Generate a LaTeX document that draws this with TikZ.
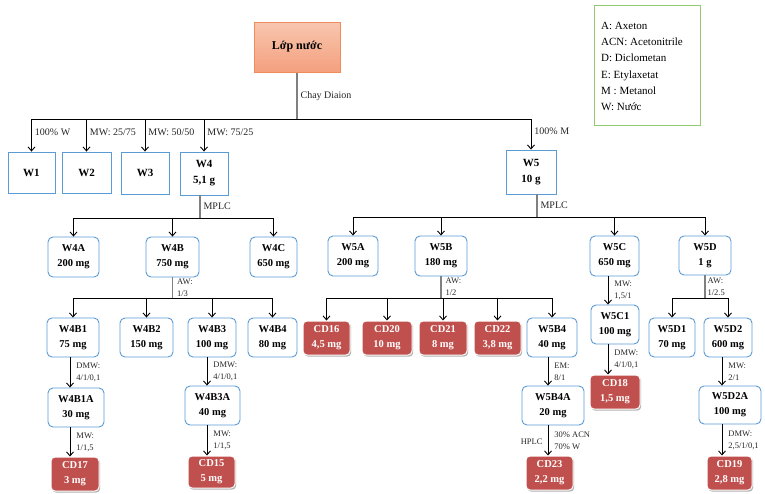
\documentclass[tikz,border=0pt]{standalone}
\usepackage{fontspec}
\setmainfont{Liberation Serif}
\usetikzlibrary{arrows.meta,shadows}

\definecolor{boxblue}{RGB}{91,155,213}
\definecolor{cdred}{RGB}{192,80,77}
\definecolor{stemgray}{RGB}{128,128,128}
\definecolor{legendgreen}{RGB}{146,200,110}
\definecolor{orangeedge}{RGB}{240,140,90}
\definecolor{orangetop}{RGB}{248,198,175}
\definecolor{orangebot}{RGB}{244,160,126}

\tikzset{
  wh/.style 2 args={minimum width=#1pt, minimum height=#2pt},
  base/.style={inner sep=0pt, align=center, font=\fontsize{10.5}{15}\selectfont\bfseries},
  fracbox/.style={base, draw=boxblue, line width=0.9pt, fill=white},
  topbox/.style={fracbox, font=\fontsize{11}{16}\selectfont\bfseries},
  subbox/.style={fracbox, rounded corners=5pt},
  cdbox/.style={base, fill=cdred, text=white, draw=white, line width=1pt,
    rounded corners=4pt,
    drop shadow={shadow xshift=1.2pt, shadow yshift=-1.6pt, fill=black, opacity=0.3}},
  stem/.style={draw=stemgray, line width=1.2pt},
  bus/.style={draw=black, line width=0.9pt},
  arr/.style={draw=black, line width=0.9pt, -{Straight Barb[length=4pt,width=7pt]}},
  lbl/.style={font=\fontsize{8.5}{12}\selectfont, align=left, inner sep=1pt, text=black!85},
  biglbl/.style={font=\fontsize{10}{12}\selectfont, inner sep=1pt, text=black!85},
}

\begin{document}
\begin{tikzpicture}[x=1pt, y=-1pt]
\path[use as bounding box] (0,0) rectangle (765,493);

% ---------- source layer and legend ----------
\node[base, draw=orangeedge, line width=1pt, top color=orangetop, bottom color=orangebot,
      wh={86}{50}, font=\fontsize{12}{14}\selectfont\bfseries] (lop) at (297,47) {Lớp nước};

\node[draw=legendgreen, line width=1pt, wh={106}{120}] (legend) at (647,65) {};
\node[anchor=west, align=left, inner sep=0pt, font=\fontsize{11}{16.2}\selectfont] (legtext) at (601,66.5)
  {A: Axeton\\ACN: Acetonitrile\\D: Diclometan\\E: Etylaxetat\\M : Metanol\\W: Nước};

% ---------- Diaion fractions ----------
\node[topbox, wh={47}{41}] (W1) at (31.5,172.5) {W1};
\node[topbox, wh={49}{41}] (W2) at (86.5,172.5) {W2};
\node[topbox, wh={48}{42}] (W3) at (145,173) {W3};
\node[topbox, wh={48}{43}] (W4) at (204,173.5) {W4\\5,1 g};
\node[topbox, wh={50}{44}] (W5) at (531,172) {W5\\10 g};

% ---------- MPLC fractions of W4 ----------
\node[subbox, wh={51}{40}] (W4A) at (73.5,257) {W4A\\200 mg};
\node[subbox, wh={53}{40}] (W4B) at (172.5,257) {W4B\\750 mg};
\node[subbox, wh={47}{40}] (W4C) at (273.5,257) {W4C\\650 mg};

\node[subbox, wh={52}{39}] (W4B1) at (73,337.5) {W4B1\\75 mg};
\node[subbox, wh={53}{39}] (W4B2) at (146.5,337.5) {W4B2\\150 mg};
\node[subbox, wh={48}{39}] (W4B3) at (212,337.5) {W4B3\\100 mg};
\node[subbox, wh={49}{39}] (W4B4) at (272.5,337.5) {W4B4\\80 mg};

\node[subbox, wh={56}{39}] (W4B1A) at (76,407.5) {W4B1A\\30 mg};
\node[cdbox, wh={48}{34}] (CD17) at (75,474) {CD17\\3 mg};
\node[subbox, wh={55}{39}] (W4B3A) at (212.5,405.5) {W4B3A\\40 mg};
\node[cdbox, wh={47}{32}] (CD15) at (211.5,472) {CD15\\5 mg};

% ---------- MPLC fractions of W5 ----------
\node[subbox, wh={50}{40}] (W5A) at (353,256) {W5A\\200 mg};
\node[subbox, wh={52}{40}] (W5B) at (441,256) {W5B\\180 mg};
\node[subbox, wh={49}{40}] (W5C) at (614.5,256) {W5C\\650 mg};
\node[subbox, wh={52}{39}] (W5D) at (705,255.5) {W5D\\1 g};

\node[cdbox, wh={47}{34}] (CD16) at (326.5,338) {CD16\\4,5 mg};
\node[cdbox, wh={50}{34}] (CD20) at (387,338) {CD20\\10 mg};
\node[cdbox, wh={48}{34}] (CD21) at (443,338) {CD21\\8 mg};
\node[cdbox, wh={47}{34}] (CD22) at (497.5,338) {CD22\\3,8 mg};
\node[subbox, wh={50}{39}] (W5B4) at (552,337.5) {W5B4\\40 mg};
\node[subbox, wh={62}{39}] (W5B4A) at (553,405.5) {W5B4A\\20 mg};
\node[cdbox, wh={47}{34}] (CD23) at (549.5,473) {CD23\\2,2 mg};

\node[subbox, wh={48}{39}] (W5C1) at (615,324.5) {W5C1\\100 mg};
\node[cdbox, wh={50}{34}] (CD18) at (615,392) {CD18\\1,5 mg};

\node[subbox, wh={46}{39}] (W5D1) at (672,337.5) {W5D1\\70 mg};
\node[subbox, wh={48}{39}] (W5D2) at (728,337.5) {W5D2\\600 mg};
\node[subbox, wh={62}{38}] (W5D2A) at (730,405) {W5D2A\\100 mg};
\node[cdbox, wh={45}{34}] (CD19) at (729.5,473) {CD19\\2,8 mg};

% ---------- bus lines and columns ----------
\coordinate (busA) at (297,119);
\coordinate (busW4) at (0,218);
\coordinate (busW5) at (0,217);
\coordinate (busW4B) at (0,298);
\coordinate (busW5B) at (0,298);
\coordinate (busW5D) at (0,298);
\coordinate (c200) at (200,0);
\coordinate (c537) at (537,0);
\coordinate (c70) at (70,0);
\coordinate (c207) at (207,0);
\coordinate (c548) at (548,0);
\coordinate (c608) at (608,0);
\coordinate (c722) at (722,0);

% Diaion column
\draw[stem] (lop.south) -- node[biglbl, right=2pt] {Chay Diaion} (busA);
\draw[bus] (W1.north |- busA) -- (W5.north |- busA);
\draw[arr] (W1.north |- busA) -- node[biglbl, right=2pt, pos=0.4] {100\% W} (W1.north);
\draw[arr] (W2.north |- busA) -- node[biglbl, right=2pt, pos=0.4] {MW: 25/75} (W2.north);
\draw[arr] (W3.north |- busA) -- node[biglbl, right=2pt, pos=0.4] {MW: 50/50} (W3.north);
\draw[arr] (W4.north |- busA) -- node[biglbl, right=2pt, pos=0.4] {MW: 75/25} (W4.north);
\draw[arr] (W5.north |- busA) -- node[biglbl, right=2pt, pos=0.4] {100\% M} (W5.north);

% W4 by MPLC
\draw[stem] (W4.south -| c200) -- node[biglbl, right=2pt] {MPLC} (busW4 -| c200);
\draw[bus] (busW4 -| W4A.north) -- (busW4 -| W4C.north);
\foreach \n in {W4A,W4B,W4C}
  \draw[arr] (busW4 -| \n.north) -- (\n.north);

% W4B
\draw[stem] (W4B.south) -- node[lbl, right=3pt] {AW:\\1/3} (busW4B -| W4B.south);
\draw[bus] (busW4B -| W4B1.north) -- (busW4B -| W4B4.north);
\foreach \n in {W4B1,W4B2,W4B3,W4B4}
  \draw[arr] (busW4B -| \n.north) -- (\n.north);

\draw[arr] (W4B1.south -| c70) -- node[lbl, right=5pt] {DMW:\\4/1/0,1} (W4B1A.north -| c70);
\draw[arr] (W4B1A.south -| c70) -- node[lbl, right=5pt] {MW:\\1/1,5} (CD17.north -| c70);
\draw[arr] (W4B3.south -| c207) -- node[lbl, right=5pt] {DMW:\\4/1/0,1} (W4B3A.north -| c207);
\draw[arr] (W4B3A.south -| c207) -- node[lbl, right=5pt] {MW:\\1/1,5} (CD15.north -| c207);

% W5 by MPLC
\draw[stem] (W5.south -| c537) -- node[biglbl, right=2pt] {MPLC} (busW5 -| c537);
\draw[bus] (busW5 -| W5A.north) -- (busW5 -| W5D.north);
\foreach \n in {W5A,W5B,W5C,W5D}
  \draw[arr] (busW5 -| \n.north) -- (\n.north);

% W5B
\draw[stem] (W5B.south) -- node[lbl, right=3pt] {AW:\\1/2} (busW5B -| W5B.south);
\draw[bus] (busW5B -| CD16.north) -- (busW5B -| W5B4.north);
\foreach \n in {CD16,CD20,CD21,CD22,W5B4}
  \draw[arr] (busW5B -| \n.north) -- (\n.north);

\draw[arr] (W5B4.south -| c548) -- node[lbl, right=5pt] {EM:\\8/1} (W5B4A.north -| c548);
\draw[arr] (W5B4A.south -| c548) -- node[lbl, right=5pt] {30\% ACN\\70\% W}
  node[lbl, left=4pt, pos=0.55] {HPLC} (CD23.north -| c548);

% W5C
\draw[arr] (W5C.south -| c608) -- node[lbl, right=5pt] {MW:\\1,5/1} (W5C1.north -| c608);
\draw[arr] (W5C1.south -| c608) -- node[lbl, right=5pt] {DMW:\\4/1/0,1} (CD18.north -| c608);

% W5D
\draw[stem] (W5D.south) -- node[lbl, right=1pt] {AW:\\1/2.5} (busW5D -| W5D.south);
\draw[bus] (busW5D -| W5D1.north) -- (busW5D -| W5D2.north);
\foreach \n in {W5D1,W5D2}
  \draw[arr] (busW5D -| \n.north) -- (\n.north);
\draw[arr] (W5D2.south -| c722) -- node[lbl, right=5pt] {MW:\\2/1} (W5D2A.north -| c722);
\draw[arr] (W5D2A.south -| c722) -- node[lbl, right=5pt] {DMW:\\2,5/1/0,1} (CD19.north -| c722);

\end{tikzpicture}
\end{document}
